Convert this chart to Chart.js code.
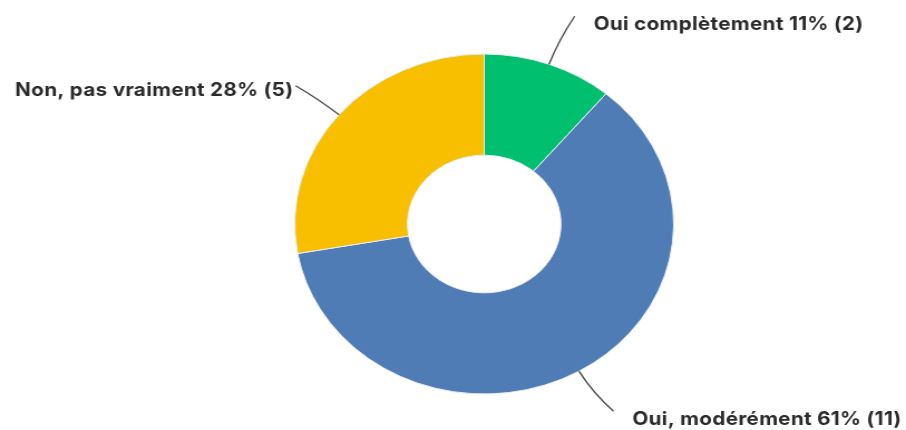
<!DOCTYPE html>
<html>
<head>
<meta charset="utf-8">
<script src="https://cdn.jsdelivr.net/npm/chart.js@4"></script>
<style>
  html, body { margin: 0; padding: 0; background: #fff; overflow: hidden; }
  /* the survey export is drawn slightly wider than tall */
  #wrap { width: 813px; height: 430px; transform: scaleX(1.1144); transform-origin: 0 0; }
</style>
</head>
<body>
<div id="wrap"><canvas id="donut" width="813" height="430"></canvas></div>
<script>
const categories = ['Oui complètement', 'Oui, modérément', 'Non, pas vraiment'];
const counts = [2, 11, 5];
const sliceColors = ['#00bf6f', '#507cb6', '#f8be00'];

// leader line end relative to the slice's outer midpoint, and text side
const leaderEnds = [[23, -48], [31, 40], [-39, -29]];
const textSide = ['left', 'left', 'right'];

const total = counts.reduce((a, b) => a + b, 0);
const labelText = counts.map((c, i) => `${categories[i]} ${Math.round(c / total * 100)}% (${c})`);

const calloutPlugin = {
    id: 'callouts',
    afterDatasetsDraw(chart) {
        const ctx = chart.ctx;
        const arcs = chart.getDatasetMeta(0).data;
        ctx.save();
        arcs.forEach((arc, i) => {
            const { x, y, startAngle, endAngle, outerRadius } = arc.getProps(['x', 'y', 'startAngle', 'endAngle', 'outerRadius'], true);
            const mid = (startAngle + endAngle) / 2;
            const dx = Math.cos(mid), dy = Math.sin(mid);
            const sx = x + dx * outerRadius, sy = y + dy * outerRadius;
            const ex = sx + leaderEnds[i][0], ey = sy + leaderEnds[i][1];
            const cx = sx + dx * 26, cy = sy + dy * 26;
            ctx.beginPath();
            ctx.moveTo(sx, sy);
            ctx.quadraticCurveTo(cx, cy, ex, ey);
            ctx.strokeStyle = '#4a4a4a';
            ctx.lineWidth = 1.4;
            ctx.stroke();

            ctx.font = '700 18.5px Inter, sans-serif';
            ctx.letterSpacing = '0.3px';
            ctx.fillStyle = '#2a2a2a';
            ctx.textBaseline = 'middle';
            if (textSide[i] === 'left') {
                ctx.textAlign = 'left';
                ctx.fillText(labelText[i], ex + 17, ey + 8);
            } else {
                ctx.textAlign = 'right';
                ctx.fillText(labelText[i], ex - 2, ey + 5);
            }
        });
        ctx.restore();
    }
};

new Chart(document.getElementById('donut'), {
    type: 'doughnut',
    data: {
        labels: categories,
        datasets: [{
            data: counts,
            backgroundColor: sliceColors,
            borderColor: '#e8eef5',
            borderWidth: 1
        }]
    },
    options: {
        responsive: false,
        animation: false,
        cutout: '40.5%',
        layout: { padding: { top: 53, bottom: 35, left: 264, right: 208 } },
        plugins: { legend: { display: false }, tooltip: { enabled: false } }
    },
    plugins: [calloutPlugin]
});
</script>
</body>
</html>
